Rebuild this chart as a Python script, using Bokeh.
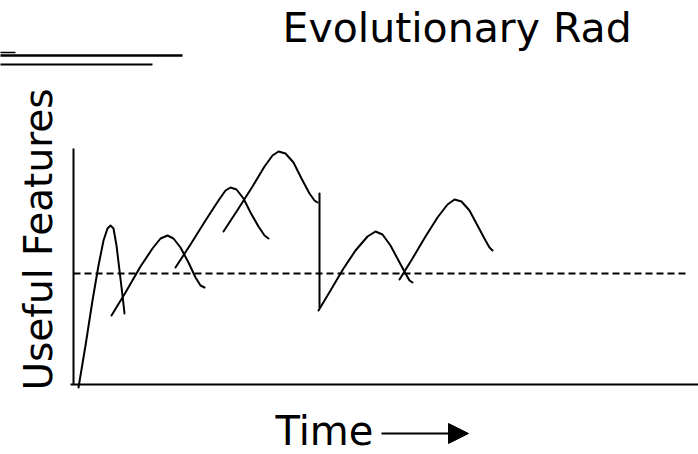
from bokeh.plotting import figure
from bokeh.models import Range1d, Label, Arrow, NormalHead
from bokeh.embed import file_html
from bokeh.resources import INLINE

# Data (time units along x, "useful features" units along y; axes origin at 0,0)
c1_t = [5, 12, 19, 25, 30, 34, 37, 40, 43, 46, 49, 51]
c1_f = [-3, 39, 84, 119, 144, 156, 159, 156, 139, 114, 89, 71]
c2_t = [38, 52, 67, 79, 87, 94, 100, 107, 115, 122, 127, 131]
c2_f = [69, 92, 118, 136, 146, 149, 146, 137, 122, 107, 99, 97]
c3_t = [102, 117, 132, 145, 152, 157, 163, 170, 177, 185, 191, 195]
c3_f = [117, 140, 164, 184, 194, 197, 195, 186, 172, 158, 149, 146]
c4_t = [150, 165, 179, 191, 199, 205, 212, 220, 228, 236, 241, 244]
c4_f = [153, 176, 198, 218, 229, 233, 231, 222, 206, 191, 184, 182]
drop_t = [246, 246]
drop_f = [191, 77]
c5_t = [245, 257, 270, 282, 294, 302, 309, 317, 325, 332, 336, 339]
c5_f = [74, 94, 116, 134, 148, 153, 150, 139, 124, 111, 104, 102]
c6_t = [326, 339, 352, 364, 374, 381, 388, 396, 404, 412, 416, 419]
c6_f = [105, 126, 148, 167, 180, 185, 183, 174, 159, 144, 137, 134]
threshold_f = 111
threshold_t = [0, 613]

title_text = "Evolutionary Rad"
x_label = "Time"
y_label = "Useful Features"

FONT = "DejaVu Sans"

p = figure(width=698, height=454, output_backend="svg", toolbar_location=None,
           x_range=Range1d(-73, 625), y_range=Range1d(-70, 384), min_border=0)
p.axis.visible = False
p.grid.visible = False
p.outline_line_color = None
p.background_fill_color = "white"
p.border_fill_color = "white"

# axes lines
p.line([-3, 630], [0, 0], line_color="black", line_width=2)
p.line([0, 0], [0, 236], line_color="black", line_width=2)

# threshold
p.line(threshold_t, [threshold_f, threshold_f], line_color="black", line_width=2, line_dash="7 4")

for t, f in [(c1_t, c1_f), (c2_t, c2_f), (c3_t, c3_f), (c4_t, c4_f),
             (drop_t, drop_f), (c5_t, c5_f), (c6_t, c6_f)]:
    p.line(t, f, line_color="black", line_width=2, line_join="round", line_cap="round")

# decorative lines at top left
p.line([-80, 109], [329, 329], line_color="black", line_width=2.5)
p.line([-80, -58], [332, 332], line_color="black", line_width=1.5)
p.line([-80, 79], [320, 320], line_color="black", line_width=2)

# texts
p.add_layout(Label(x=209, y=357, text=title_text, text_font=FONT, text_font_size="41px",
                   text_color="black", text_align="left", text_baseline="alphabetic"))
p.add_layout(Label(x=202, y=-46, text=x_label, text_font=FONT, text_font_size="40px",
                   text_color="black", text_align="left", text_baseline="alphabetic"))
p.add_layout(Label(x=-35, y=145, text=y_label, text_font=FONT, text_font_size="39px",
                   text_color="black", text_align="center", text_baseline="alphabetic",
                   angle=1.5707963))

p.add_layout(Arrow(x_start=308, y_start=-49, x_end=395, y_end=-49, line_width=2,
                   line_color="black",
                   end=NormalHead(size=20, fill_color="black", line_color="black")))

open("out.html", "w").write(file_html(p, INLINE))
